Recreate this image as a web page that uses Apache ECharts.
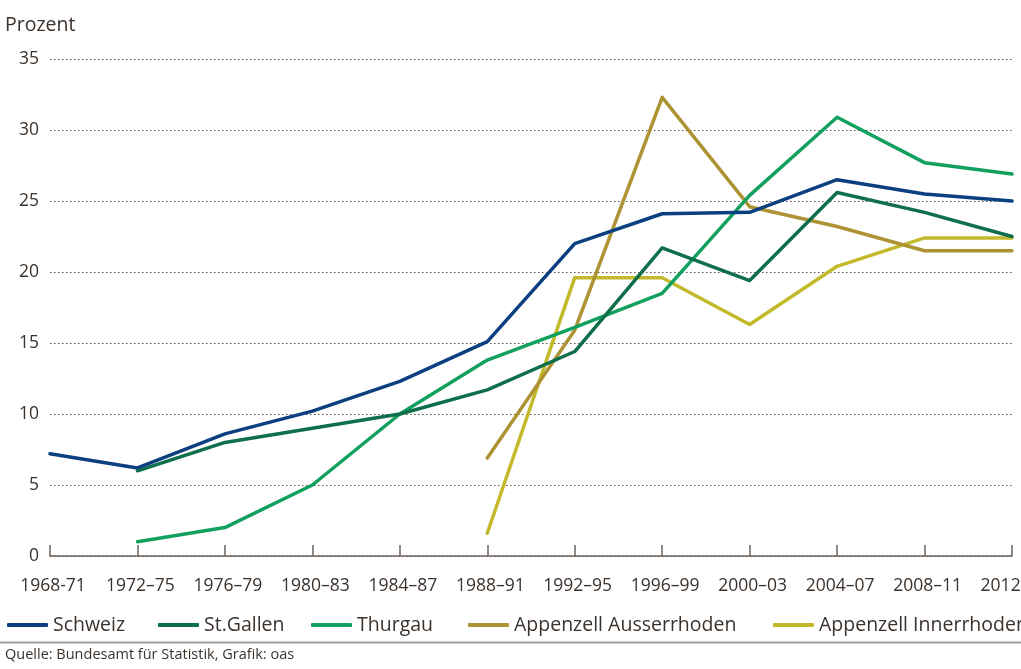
<!DOCTYPE html>
<html>
<head>
<meta charset="utf-8">
<script src="https://cdn.jsdelivr.net/npm/echarts@6/dist/echarts.min.js"></script>
<style>
html,body{margin:0;padding:0;background:#fff;}
#c{width:1021px;height:669px;}
</style>
</head>
<body>
<div id="c"></div>
<script>
var categories = ['1968-71','1972–75','1976–79','1980–83','1984–87','1988–91','1992–95','1996–99','2000–03','2004–07','2008–11','2012–15'];
var yTicks = [0,5,10,15,20,25,30,35];
var schweiz = [7.2, 6.2, 8.6, 10.2, 12.3, 15.1, 22.0, 24.1, 24.2, 26.5, 25.5, 25.0];
var stGallen = [null, 6.0, 8.0, 9.0, 10.0, 11.7, 14.4, 21.7, 19.4, 25.6, 24.2, 22.5];
var thurgau = [null, 1.0, 2.0, 5.0, 10.0, 13.8, 16.1, 18.5, 25.4, 30.9, 27.7, 26.9];
var ausserrhoden = [null, null, null, null, null, 6.9, 15.9, 32.3, 24.6, 23.2, 21.5, 21.5];
var innerrhoden = [null, null, null, null, null, 1.6, 19.6, 19.6, 16.3, 20.4, 22.4, 22.4];

var names = ['Schweiz','St.Gallen','Thurgau','Appenzell Ausserrhoden','Appenzell Innerrhoden'];
var colors = ['#0b3f80','#0f6e4b','#12a05e','#ad9333','#c3ba2b'];
var dataSets = [schweiz, stGallen, thurgau, ausserrhoden, innerrhoden];
var legendLeft = [7, 158, 311, 468, 773];
var FONT = '"Open Sans", sans-serif';
var TXT = '#3b322c';

var chart = echarts.init(document.getElementById('c'), null, {renderer:'canvas'});
var series = names.map(function(n,i){
  return {
    name:n, type:'line', data:dataSets[i], symbol:'none', showSymbol:false,
    lineStyle:{color:colors[i], width:3.5, join:'round', cap:'round'},
    itemStyle:{color:colors[i]},
    connectNulls:false, animation:false, z: 10 - i
  };
});
var legends = names.map(function(n,i){
  return {
    data:[n], left:legendLeft[i], top:613, padding:0, orient:'horizontal',
    icon:'roundRect', itemWidth:41, itemHeight:4,
    textStyle:{fontFamily:FONT, fontSize:19.5, color:TXT, lineHeight:24},
    selectedMode:false
  };
});
chart.setOption({
  animation:false,
  backgroundColor:'#fff',
  grid:{left:50, right:9, top:59, bottom:113, containLabel:false, outerBoundsMode:'none'},
  legend:legends,
  xAxis:{
    type:'category', data:categories, boundaryGap:false,
    axisLine:{show:true, lineStyle:{color:'#6e625b', width:1.5}},
    axisTick:{show:true, inside:true, length:11, interval:0, lineStyle:{color:'#6e625b', width:1.5}},
    axisLabel:{interval:0, margin:21, fontFamily:FONT, fontSize:17.5, color:TXT, padding:[0,0,0,6],
      hideOverlap:false, showMaxLabel:true, showMinLabel:true},
    splitLine:{show:false}
  },
  yAxis:{
    type:'value', min:0, max:35, interval:5,
    axisLine:{show:false}, axisTick:{show:false},
    axisLabel:{margin:11, fontFamily:FONT, fontSize:17.5, color:TXT, padding:[0,0,8,0],
      formatter:function(v){ return yTicks.indexOf(v) >= 0 ? String(v) : ''; }},
    splitLine:{show:true, lineStyle:{type:[1.5,2.5], color:'#5a524d', width:1}}
  },
  graphic:[
    {type:'text', left:5, top:15, style:{text:'Prozent', font:'19.5px "Open Sans", sans-serif', fill:TXT}},
    {type:'rect', shape:{x:0, y:641.5, width:1021, height:2}, style:{fill:'#a3a09e'}},
    {type:'text', left:5, top:647, style:{text:'Quelle: Bundesamt für Statistik, Grafik: oas', font:'14.5px "Open Sans", sans-serif', fill:TXT}}
  ],
  series:series
});
</script>
</body>
</html>
